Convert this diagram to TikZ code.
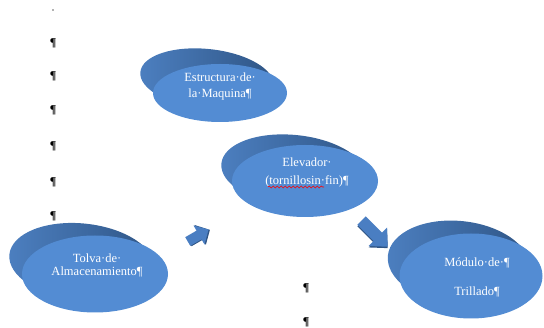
\documentclass[tikz,border=0pt]{standalone}
\usepackage{fontspec}
\setmainfont{Liberation Serif}
\usetikzlibrary{shapes.geometric,decorations.pathmorphing}

\definecolor{cara}{HTML}{538CD3}
\definecolor{borde}{HTML}{2F5585}
\definecolor{bordeclaro}{HTML}{4C7FC0}
\definecolor{flecha}{HTML}{4A7EC2}

\tikzset{
  fondo/.style={ellipse, inner sep=0pt, left color=bordeclaro, right color=borde},
  frente/.style={ellipse, inner sep=0pt, fill=cara},
  texto/.style={text=white, align=center, font=\fontsize{12.5}{14}\selectfont},
  marca/.style={font=\bfseries\fontsize{12}{12}\selectfont, inner sep=0pt},
}

\begin{document}
\begin{tikzpicture}[x=1pt,y=-1pt]
\useasboundingbox (0,0) rectangle (544,328);

% marcas de parrafo
\fill[gray!60] (51.5,9.5) rectangle (53.5,11.5);
\foreach \y [count=\i] in {43,76,110,146,182,216}
  \node[marca] (p\i) at (53,\y) {¶};
\node[marca] (p7) at (306,288) {¶};
\node[marca] (p8) at (306,322) {¶};

% Estructura
\node[fondo, minimum width=134pt, minimum height=60pt, rotate=-6] (e0) at (207,79) {};
\node[frente, minimum width=134pt, minimum height=58pt] (e1) at (220,93) {};
\node[texto] (te) at (220,86) {Estructura·de·\\[2pt]la·Maquina¶};

% Elevador
\node[fondo, minimum width=146pt, minimum height=72pt, rotate=-6] (l0) at (294,171) {};
\node[frente, minimum width=146pt, minimum height=72pt] (l1) at (305,181) {};
\node[texto] (tl) at (307,172) {Elevador·\\[4pt](tornillosin·fin)¶};
\draw[red, line width=0.6pt, decorate, decoration={snake, amplitude=1pt, segment length=4pt}]
  (268,187) -- (324,187);

% Tolva
\node[fondo, minimum width=146pt, minimum height=77pt, rotate=-6] (t0) at (82,262) {};
\node[frente, minimum width=146pt, minimum height=77pt] (t1) at (95,274) {};
\node[texto] (tt) at (97,265) {Tolva·de·\\[-1pt]Almacenamiento¶};

% Modulo
\node[fondo, minimum width=143pt, minimum height=84pt, rotate=-6] (m0) at (459,263) {};
\node[frente, minimum width=143pt, minimum height=85pt] (m1) at (471,276) {};
\node[texto] (tm) at (477,277) {Módulo·de·¶\\[15pt]Trillado¶};

% flechas de bloque
\begin{scope}[shift={(199,235)}, rotate=30]
  \fill[borde] (-12,-4)--(1,-4)--(1,-11)--(12,1)--(1,12)--(1,6)--(-12,6)--cycle;
  \fill[flecha] (-13,-5)--(0,-5)--(0,-11)--(11,0)--(0,11)--(0,5)--(-13,5)--cycle;
\end{scope}
\begin{scope}[shift={(375,234)}, rotate=-45]
  \fill[borde] (-18,-5)--(5,-5)--(5,-12)--(19,1)--(5,14)--(5,7)--(-18,7)--cycle;
  \fill[flecha] (-19,-6)--(4,-6)--(4,-13)--(18,0)--(4,13)--(4,6)--(-19,6)--cycle;
\end{scope}
\end{tikzpicture}
\end{document}
